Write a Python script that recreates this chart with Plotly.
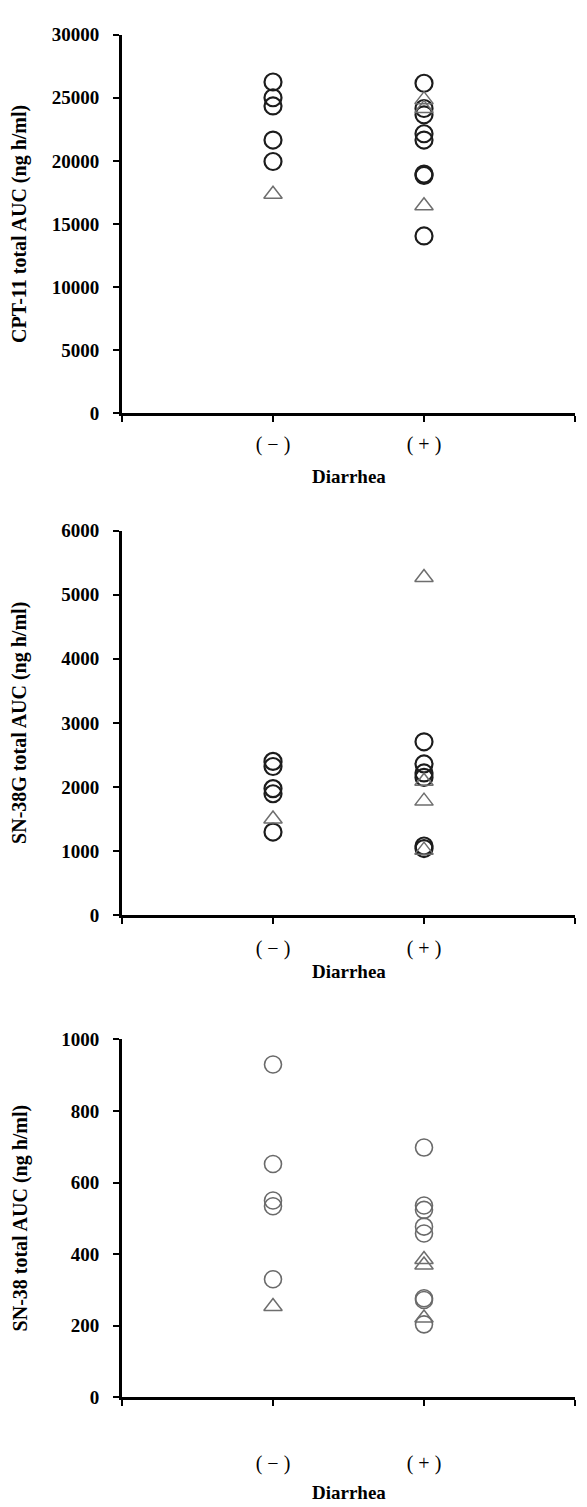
import plotly.graph_objects as go

# ---- data ----
categories = ["( − )", "( + )"]
cat_pos = [1, 2]

p1_neg_circle = [26250, 25000, 24350, 21650, 19950]
p1_neg_tri = [17350]
p1_pos_circle = [26150, 24150, 23650, 22150, 21650, 18950, 18850, 14050]
p1_pos_tri = [24850, 24150, 16450]

p2_neg_circle = [2400, 2320, 1975, 1895, 1297]
p2_neg_tri = [1500]
p2_pos_circle = [2705, 2360, 2220, 2150, 1080, 1040]
p2_pos_tri = [5270, 2090, 1780, 1015]

p3_neg_circle = [930, 652, 550, 534, 330]
p3_neg_tri = [254]
p3_pos_circle = [698, 536, 524, 477, 458, 277, 272, 204]
p3_pos_tri = [385, 370, 222]

y_titles = ["CPT-11 total AUC (ng h/ml)", "SN-38G total AUC (ng h/ml)", "SN-38 total AUC (ng h/ml)"]
y_ranges = [[0, 30000], [0, 6000], [0, 1000]]
y_dticks = [5000, 1000, 200]
x_title = "Diarrhea"

W, H = 587, 1507
# pixel layout of each panel (top, bottom), x-tick-label standoff, x-title offset
panels_px = [(25, 409), (528, 918), (1044, 1407)]
xlab_standoff = [5, 7, 40]
xtitle_offset = [64, 57, 96]
x_left, x_right = 122, 575

fig = go.Figure()

SERIF = "Liberation Serif"

panel_data = [
    (p1_neg_circle, p1_neg_tri, p1_pos_circle, p1_pos_tri, "#1c1c1c", 2.2),
    (p2_neg_circle, p2_neg_tri, p2_pos_circle, p2_pos_tri, "#1c1c1c", 2.2),
    (p3_neg_circle, p3_neg_tri, p3_pos_circle, p3_pos_tri, "#6a6a6a", 1.6),
]

for i, (nc, nt, pc, pt, ccol, cw) in enumerate(panel_data):
    xa = "x" if i == 0 else f"x{i+1}"
    ya = "y" if i == 0 else f"y{i+1}"
    for vals, pos, sym, col, lw in [
        (nc, cat_pos[0], "circle-open", ccol, cw),
        (pc, cat_pos[1], "circle-open", ccol, cw),
        (nt, cat_pos[0], "triangle-up-open", "#6e6e6e", 1.5),
        (pt, cat_pos[1], "triangle-up-open", "#6e6e6e", 1.5),
    ]:
        fig.add_trace(go.Scatter(
            x=[pos] * len(vals), y=vals, mode="markers",
            marker=dict(symbol=sym, size=17 if sym.startswith("circle") else 16,
                        color=col, line=dict(color=col, width=lw)),
            xaxis=xa, yaxis=ya, showlegend=False, cliponaxis=False,
        ))

layout = dict(
    width=W, height=H, margin=dict(l=0, r=0, t=0, b=0),
    paper_bgcolor="white", plot_bgcolor="white", showlegend=False,
)

annotations = []
for i, (top, bot) in enumerate(panels_px):
    xk = "xaxis" if i == 0 else f"xaxis{i+1}"
    yk = "yaxis" if i == 0 else f"yaxis{i+1}"
    ydom = [1 - bot / H, 1 - top / H]
    layout[xk] = dict(
        domain=[x_left / W, x_right / W], range=[0, 3],
        anchor="y" if i == 0 else f"y{i+1}",
        tickmode="array", tickvals=[0, 1, 2, 3], ticktext=["", categories[0], categories[1], ""],
        showline=True, linecolor="black", linewidth=3, mirror=False,
        ticks="outside", ticklen=6, tickwidth=2, tickcolor="black",
        showgrid=False, zeroline=False, fixedrange=True,
        tickfont=dict(family=SERIF, size=20, color="black"),
        ticklabelstandoff=xlab_standoff[i],
    )
    layout[yk] = dict(
        domain=ydom, range=y_ranges[i], dtick=y_dticks[i], tick0=0,
        anchor="x" if i == 0 else f"x{i+1}", tickformat="d",
        showline=True, linecolor="black", linewidth=3,
        ticks="outside", ticklen=6, tickwidth=2, tickcolor="black",
        showgrid=False, zeroline=False, fixedrange=True,
        tickfont=dict(family=SERIF, size=19, color="black", weight="bold"),
        ticklabelstandoff=10,
    )
    annotations.append(dict(
        text=y_titles[i], textangle=-90, xref="paper", yref="paper",
        x=20 / W, y=(ydom[0] + ydom[1]) / 2, showarrow=False,
        font=dict(family=SERIF, size=20, color="black", weight="bold"),
        xanchor="center", yanchor="middle",
    ))
    annotations.append(dict(
        text=x_title, xref="paper", yref="paper",
        x=(x_left + x_right) / 2 / W, y=1 - (bot + xtitle_offset[i]) / H, showarrow=False,
        font=dict(family=SERIF, size=19, color="black", weight="bold"),
        xanchor="center", yanchor="middle",
    ))

layout["annotations"] = annotations
fig.update_layout(**layout)
fig.write_html("out.html")
